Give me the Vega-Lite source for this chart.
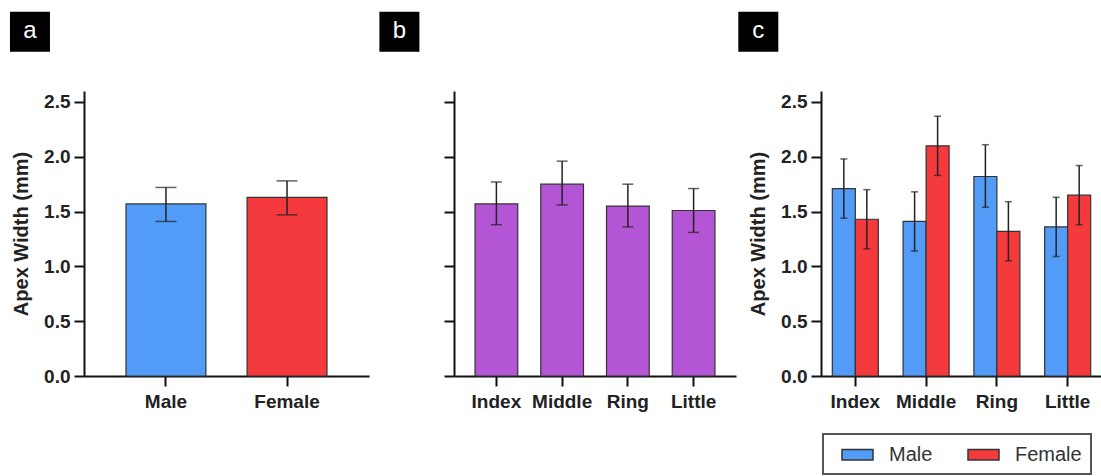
{
  "$schema": "https://vega.github.io/schema/vega-lite/v6.json",
  "background": "white",
  "padding": {"left": 9, "top": 11, "right": 0, "bottom": 0},
  "config": {
    "view": {"stroke": null},
    "font": "Liberation Sans",
    "axis": {
      "domainColor": "#111", "domainWidth": 2, "tickColor": "#111", "tickWidth": 2, "tickSize": 10,
      "labelFont": "Liberation Sans", "labelFontSize": 19, "labelFontWeight": "bold", "labelColor": "#222",
      "titleFont": "Liberation Sans", "titleFontSize": 20, "titleFontWeight": "bold", "titleColor": "#222",
      "grid": false
    },
    "axisY": {"labelPadding": 4, "titlePadding": 12},
    "axisX": {"labelPadding": 6, "labelAngle": 0},
    "legend": {"strokeWidth": 2}
  },
  "datasets": {
    "a": [
      {"sex": "Male", "mean": 1.57, "lo": 1.41, "hi": 1.72},
      {"sex": "Female", "mean": 1.63, "lo": 1.47, "hi": 1.78}
    ],
    "b": [
      {"finger": "Index", "mean": 1.57, "lo": 1.38, "hi": 1.77},
      {"finger": "Middle", "mean": 1.75, "lo": 1.56, "hi": 1.96},
      {"finger": "Ring", "mean": 1.55, "lo": 1.36, "hi": 1.75},
      {"finger": "Little", "mean": 1.51, "lo": 1.31, "hi": 1.71}
    ],
    "c": [
      {"finger": "Index", "sex": "Male", "mean": 1.71, "lo": 1.44, "hi": 1.98},
      {"finger": "Index", "sex": "Female", "mean": 1.43, "lo": 1.16, "hi": 1.70},
      {"finger": "Middle", "sex": "Male", "mean": 1.41, "lo": 1.14, "hi": 1.68},
      {"finger": "Middle", "sex": "Female", "mean": 2.10, "lo": 1.83, "hi": 2.37},
      {"finger": "Ring", "sex": "Male", "mean": 1.82, "lo": 1.54, "hi": 2.11},
      {"finger": "Ring", "sex": "Female", "mean": 1.32, "lo": 1.05, "hi": 1.59},
      {"finger": "Little", "sex": "Male", "mean": 1.36, "lo": 1.09, "hi": 1.63},
      {"finger": "Little", "sex": "Female", "mean": 1.65, "lo": 1.38, "hi": 1.92}
    ]
  },
  "spacing": 85,
  "bounds": "flush",
  "resolve": {"scale": {"color": "independent", "x": "independent", "y": "independent"}, "legend": {"color": "independent"}},
  "hconcat": [
    {
      "width": 285, "height": 285,
      "data": {"name": "a"},
      "layer": [
        {
          "mark": {"type": "bar", "stroke": "#333", "strokeWidth": 1.2},
          "encoding": {
            "x": {"field": "sex", "type": "nominal", "sort": ["Male", "Female"], "scale": {"paddingInner": 0.34, "paddingOuter": 0.347}, "axis": {"title": null}},
            "y": {"field": "mean", "type": "quantitative", "scale": {"domain": [0, 2.5]}, "axis": {"values": [0, 0.5, 1, 1.5, 2, 2.5], "format": ".1f"}, "title": "Apex Width (mm)"},
            "color": {"field": "sex", "type": "nominal", "scale": {"domain": ["Male", "Female"], "range": ["#529CF8", "#F53A3D"]}, "legend": null}
          }
        },
        {
          "mark": {"type": "rule", "color": "#222", "strokeWidth": 1.5},
          "encoding": {
            "x": {"field": "sex", "type": "nominal", "sort": ["Male", "Female"]},
            "y": {"field": "lo", "type": "quantitative", "title": "Apex Width (mm)"},
            "y2": {"field": "hi"}
          }
        },
        {
          "mark": {"type": "tick", "color": "#222", "thickness": 1.5, "size": 21},
          "encoding": {
            "x": {"field": "sex", "type": "nominal", "sort": ["Male", "Female"]},
            "y": {"field": "lo", "type": "quantitative", "title": "Apex Width (mm)"}
          }
        },
        {
          "mark": {"type": "tick", "color": "#222", "thickness": 1.5, "size": 21},
          "encoding": {
            "x": {"field": "sex", "type": "nominal", "sort": ["Male", "Female"]},
            "y": {"field": "hi", "type": "quantitative", "title": "Apex Width (mm)"}
          }
        },
        {
          "data": {"values": [{"panel": "a"}]},
          "mark": {"type": "square", "size": 1600, "filled": true, "color": "black", "opacity": 1, "xOffset": -136},
          "encoding": {"x": {"datum": "Male"}, "y": {"datum": 3.14}}
        },
        {
          "data": {"values": [{"panel": "a"}]},
          "mark": {"type": "text", "color": "white", "fontSize": 24, "font": "Liberation Sans", "xOffset": -136, "yOffset": -1, "align": "center", "baseline": "middle"},
          "encoding": {"x": {"datum": "Male"}, "y": {"datum": 3.14}, "text": {"field": "panel"}}
        }
      ]
    },
    {
      "width": 282, "height": 285,
      "data": {"name": "b"},
      "layer": [
        {
          "mark": {"type": "bar", "stroke": "#333", "strokeWidth": 1.2, "color": "#B455D6"},
          "encoding": {
            "x": {"field": "finger", "type": "nominal", "sort": ["Index", "Middle", "Ring", "Little"], "scale": {"paddingInner": 0.35, "paddingOuter": 0.32}, "axis": {"title": null}},
            "y": {"field": "mean", "type": "quantitative", "scale": {"domain": [0, 2.5]}, "axis": {"values": [0, 0.5, 1, 1.5, 2, 2.5], "labels": false, "title": null}}
          }
        },
        {
          "mark": {"type": "rule", "color": "#222", "strokeWidth": 1.5},
          "encoding": {
            "x": {"field": "finger", "type": "nominal", "sort": ["Index", "Middle", "Ring", "Little"]},
            "y": {"field": "lo", "type": "quantitative"},
            "y2": {"field": "hi"}
          }
        },
        {
          "mark": {"type": "tick", "color": "#222", "thickness": 1.5, "size": 11},
          "encoding": {
            "x": {"field": "finger", "type": "nominal", "sort": ["Index", "Middle", "Ring", "Little"]},
            "y": {"field": "lo", "type": "quantitative"}
          }
        },
        {
          "mark": {"type": "tick", "color": "#222", "thickness": 1.5, "size": 11},
          "encoding": {
            "x": {"field": "finger", "type": "nominal", "sort": ["Index", "Middle", "Ring", "Little"]},
            "y": {"field": "hi", "type": "quantitative"}
          }
        },
        {
          "data": {"values": [{"panel": "b"}]},
          "mark": {"type": "square", "size": 1600, "filled": true, "color": "black", "opacity": 1, "xOffset": -97},
          "encoding": {"x": {"datum": "Index"}, "y": {"datum": 3.14}}
        },
        {
          "data": {"values": [{"panel": "b"}]},
          "mark": {"type": "text", "color": "white", "fontSize": 24, "font": "Liberation Sans", "xOffset": -97, "yOffset": -1, "align": "center", "baseline": "middle"},
          "encoding": {"x": {"datum": "Index"}, "y": {"datum": 3.14}, "text": {"field": "panel"}}
        }
      ]
    },
    {
      "width": 281, "height": 285,
      "data": {"name": "c"},
      "layer": [
        {
          "mark": {"type": "bar", "stroke": "#333", "strokeWidth": 1.2},
          "encoding": {
            "x": {"field": "finger", "type": "nominal", "sort": ["Index", "Middle", "Ring", "Little"], "scale": {"paddingInner": 0.35, "paddingOuter": 0.16}, "axis": {"title": null}},
            "xOffset": {"field": "sex", "type": "nominal", "sort": ["Male", "Female"], "scale": {"domain": ["Male", "Female"], "paddingInner": 0, "paddingOuter": 0}},
            "y": {"field": "mean", "type": "quantitative", "scale": {"domain": [0, 2.5]}, "axis": {"values": [0, 0.5, 1, 1.5, 2, 2.5], "format": ".1f"}, "title": "Apex Width (mm)"},
            "color": {
              "field": "sex", "type": "nominal",
              "scale": {"domain": ["Male", "Female"], "range": ["#529CF8", "#F53A3D"]},
              "legend": {
                "orient": "none", "legendX": 2, "legendY": 343, "direction": "horizontal", "title": null,
                "symbolType": "M-1.5,-0.5H1.5V0.5H-1.5Z", "symbolSize": 427, "symbolStrokeColor": "#333", "symbolStrokeWidth": 1.5, "symbolOpacity": 1,
                "labelFont": "Liberation Sans", "labelFontSize": 20, "labelFontWeight": "normal", "labelColor": "#333",
                "labelOffset": 20, "columnPadding": 25, "padding": 9, "symbolOffset": 14,
                "strokeColor": "#555", "fillColor": "white"
              }
            }
          }
        },
        {
          "mark": {"type": "rule", "color": "#222", "strokeWidth": 1.5},
          "encoding": {
            "x": {"field": "finger", "type": "nominal", "sort": ["Index", "Middle", "Ring", "Little"]},
            "xOffset": {"field": "sex", "type": "nominal", "sort": ["Male", "Female"]},
            "y": {"field": "lo", "type": "quantitative", "title": "Apex Width (mm)"},
            "y2": {"field": "hi"}
          }
        },
        {
          "mark": {"type": "tick", "color": "#222", "thickness": 1.5, "size": 7},
          "encoding": {
            "x": {"field": "finger", "type": "nominal", "sort": ["Index", "Middle", "Ring", "Little"]},
            "xOffset": {"field": "sex", "type": "nominal", "sort": ["Male", "Female"]},
            "y": {"field": "lo", "type": "quantitative", "title": "Apex Width (mm)"}
          }
        },
        {
          "mark": {"type": "tick", "color": "#222", "thickness": 1.5, "size": 7},
          "encoding": {
            "x": {"field": "finger", "type": "nominal", "sort": ["Index", "Middle", "Ring", "Little"]},
            "xOffset": {"field": "sex", "type": "nominal", "sort": ["Male", "Female"]},
            "y": {"field": "hi", "type": "quantitative", "title": "Apex Width (mm)"}
          }
        },
        {
          "data": {"values": [{"panel": "c"}]},
          "mark": {"type": "square", "size": 1600, "filled": true, "color": "black", "opacity": 1, "xOffset": -97},
          "encoding": {"x": {"datum": "Index"}, "y": {"datum": 3.14}}
        },
        {
          "data": {"values": [{"panel": "c"}]},
          "mark": {"type": "text", "color": "white", "fontSize": 24, "font": "Liberation Sans", "xOffset": -97, "yOffset": -1, "align": "center", "baseline": "middle"},
          "encoding": {"x": {"datum": "Index"}, "y": {"datum": 3.14}, "text": {"field": "panel"}}
        }
      ]
    }
  ]
}
